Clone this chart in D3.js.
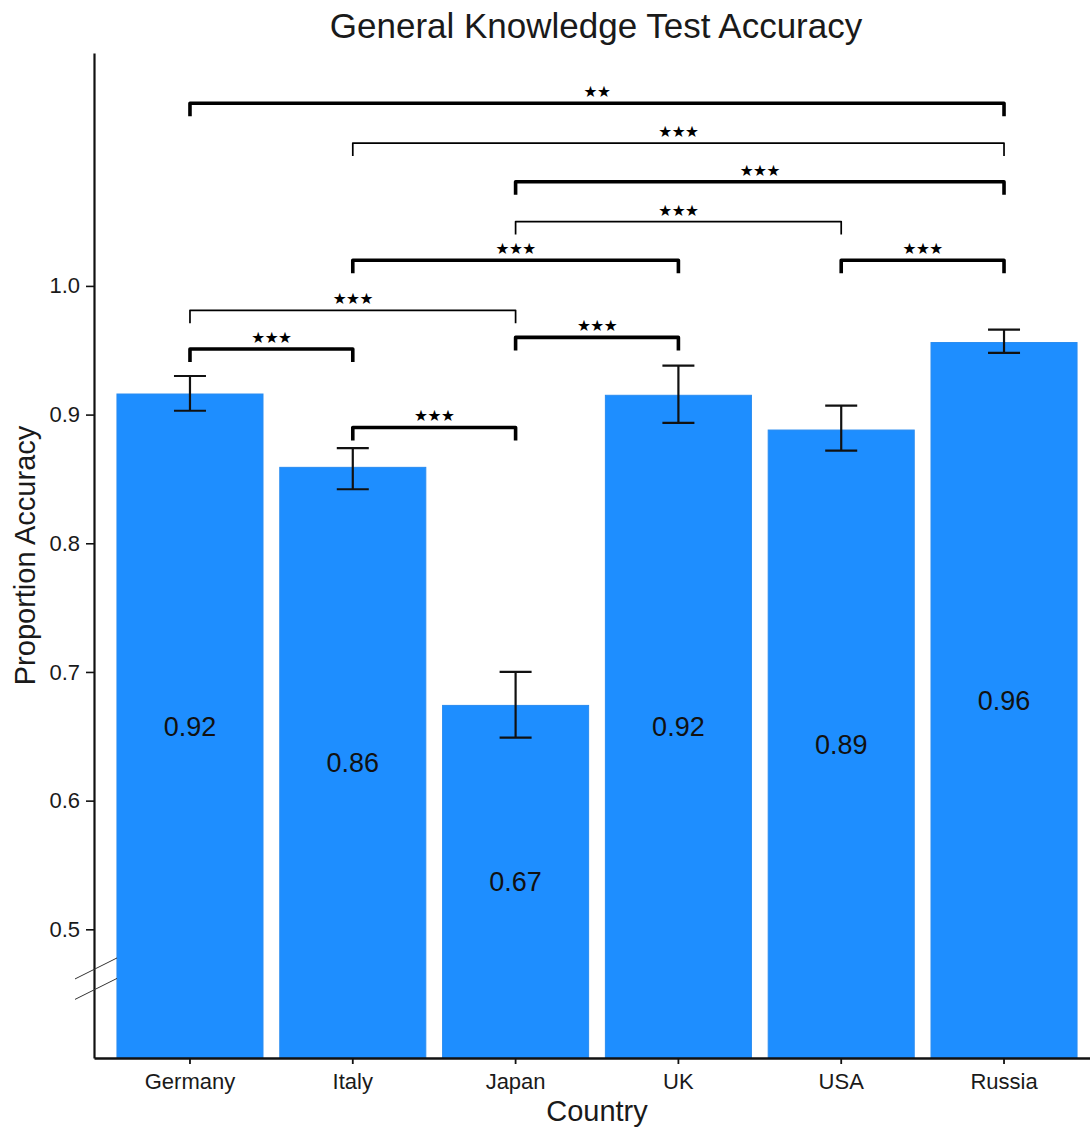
<!DOCTYPE html>
<html>
<head>
<meta charset="utf-8">
<script src="https://cdn.jsdelivr.net/npm/d3@7"></script>
<style>
  body { margin: 0; background: #fff; }
  text { font-family: "Liberation Sans", Arial, sans-serif; fill: #1a1a1a; }
</style>
</head>
<body>
<div id="chart"></div>
<script>
// data
const countries = ["Germany", "Italy", "Japan", "UK", "USA", "Russia"]
const accuracy = [0.916, 0.859, 0.674, 0.915, 0.888, 0.956]
const errLow = [0.903, 0.842, 0.649, 0.8935, 0.872, 0.948]
const errHigh = [0.930, 0.874, 0.700, 0.938, 0.907, 0.966]
const yTicks = [0.5, 0.6, 0.7, 0.8, 0.9, 1.0]

// significance comparisons: from, to, level (proportion), stars
const sigFrom = ["Germany", "Italy", "Japan", "Japan", "Italy", "USA", "Germany", "Germany", "Japan", "Italy"]
const sigTo = ["Russia", "Russia", "Russia", "USA", "UK", "Russia", "Japan", "Italy", "UK", "Japan"]
const sigLevel = [1.142, 1.111, 1.081, 1.050, 1.020, 1.020, 0.981, 0.951, 0.960, 0.890]
const sigStars = ["**", "***", "***", "***", "***", "***", "***", "***", "***", "***"]

// where the axis break marks sit
const axisBreaks = [0.4696, 0.4537]

const W = 1090, H = 1129
const margin = { top: 53, right: -10, bottom: 71, left: 94 }

// brackets drawn heavier in the reference
const heavy = new Set([0, 2, 4, 5, 7, 8, 9])

const svg = d3.select("#chart").append("svg")
    .attr("width", W)
    .attr("height", H)

const x = d3.scaleBand()
    .domain(countries)
    .range([margin.left, W - margin.right])
    .paddingInner(0.103)
    .paddingOuter(0.141)

const y = d3.scaleLinear()
    .domain([0.4, 1.181])
    .range([H - margin.bottom, margin.top])

const rows = countries.map((c, i) => ({ country: c, value: accuracy[i], lo: errLow[i], hi: errHigh[i] }))

// bars
svg.append("g")
    .selectAll("rect")
    .data(rows)
    .join("rect")
    .attr("x", d => x(d.country))
    .attr("y", d => y(d.value))
    .attr("width", x.bandwidth())
    .attr("height", d => y(0.4) - y(d.value))
    .attr("fill", "#1e8eff")
    .attr("stroke", "#2a8cf0")
    .attr("stroke-width", 1)

// value labels in middle of bar
svg.append("g")
    .selectAll("text")
    .data(rows)
    .join("text")
    .attr("x", d => x(d.country) + x.bandwidth() / 2)
    .attr("y", d => (y(d.value) + y(0.4)) / 2)
    .attr("dy", "0.36em")
    .attr("text-anchor", "middle")
    .style("font-size", "27px")
    .style("fill", "#111")
    .text(d => d3.format(".2f")(d.value))

// error bars
const eb = svg.append("g")
    .attr("stroke", "#111")
    .attr("stroke-width", 2.2)
    .selectAll("g")
    .data(rows)
    .join("g")
    .attr("transform", d => "translate(" + (x(d.country) + x.bandwidth() / 2) + ",0)")
eb.append("line").attr("y1", d => y(d.lo)).attr("y2", d => y(d.hi))
eb.append("line").attr("x1", -16).attr("x2", 16).attr("y1", d => y(d.lo)).attr("y2", d => y(d.lo))
eb.append("line").attr("x1", -16).attr("x2", 16).attr("y1", d => y(d.hi)).attr("y2", d => y(d.hi))

// significance brackets
const cx = c => x(c) + x.bandwidth() / 2
const tip = 13
const sig = sigFrom.map((f, i) => ({ from: f, to: sigTo[i], level: sigLevel[i], stars: sigStars[i], i }))
const br = svg.append("g").selectAll("g").data(sig).join("g")
br.append("path")
    .attr("fill", "none")
    .attr("stroke", "#000")
    .attr("stroke-linejoin", "round")
    .attr("stroke-width", d => heavy.has(d.i) ? 3.6 : 1.7)
    .attr("d", d => {
        const ly = y(d.level)
        return "M" + cx(d.from) + "," + (ly + tip) + "V" + ly + "H" + cx(d.to) + "V" + (ly + tip)
    })
br.append("text")
    .attr("x", d => (cx(d.from) + cx(d.to)) / 2)
    .attr("y", d => y(d.level) - 6)
    .attr("text-anchor", "middle")
    .style("font-family", "'DejaVu Sans', sans-serif")
    .style("font-size", "15.5px")
    .style("fill", "#000")
    .style("letter-spacing", "-0.5px")
    .text(d => d.stars.replace(/\*/g, "\u2605"))

// y axis
const yAxis = svg.append("g")
    .attr("transform", "translate(" + margin.left + ",0)")
    .call(d3.axisLeft(y).tickValues(yTicks).tickFormat(d3.format(".1f")).tickSize(8).tickSizeOuter(0).tickPadding(6))
yAxis.select(".domain").attr("stroke", "#111").attr("stroke-width", 2.2)
yAxis.selectAll(".tick line").attr("stroke", "#111").attr("stroke-width", 1.6)
yAxis.selectAll(".tick text").style("font-size", "22px").style("font-family", "'Liberation Sans', Arial, sans-serif").attr("fill", "#1a1a1a")

// axis break marks
svg.append("g")
    .selectAll("line")
    .data(axisBreaks)
    .join("line")
    .attr("x1", margin.left - 19)
    .attr("x2", margin.left + 23)
    .attr("y1", d => y(d) + 10.5)
    .attr("y2", d => y(d) - 10.5)
    .attr("stroke", "#333")
    .attr("stroke-width", 1)

// x axis
const xAxis = svg.append("g")
    .attr("transform", "translate(0," + y(0.4) + ")")
    .call(d3.axisBottom(x).tickSize(6).tickSizeOuter(0).tickPadding(9))
xAxis.select(".domain").attr("stroke", "#111").attr("stroke-width", 2.6)
xAxis.selectAll(".tick line").attr("stroke", "#111").attr("stroke-width", 1.8)
xAxis.selectAll(".tick text").style("font-size", "22px").style("font-family", "'Liberation Sans', Arial, sans-serif").attr("fill", "#1a1a1a")

// title and axis labels
svg.append("text")
    .attr("x", 596)
    .attr("y", 38)
    .attr("text-anchor", "middle")
    .style("font-size", "35px")
    .text("General Knowledge Test Accuracy")

svg.append("text")
    .attr("x", 597)
    .attr("y", 1121)
    .attr("text-anchor", "middle")
    .style("font-size", "29px")
    .text("Country")

svg.append("text")
    .attr("transform", "translate(35," + ((y(0.4) + margin.top) / 2) + ") rotate(-90)")
    .attr("text-anchor", "middle")
    .style("font-size", "29px")
    .text("Proportion Accuracy")
</script>
</body>
</html>
